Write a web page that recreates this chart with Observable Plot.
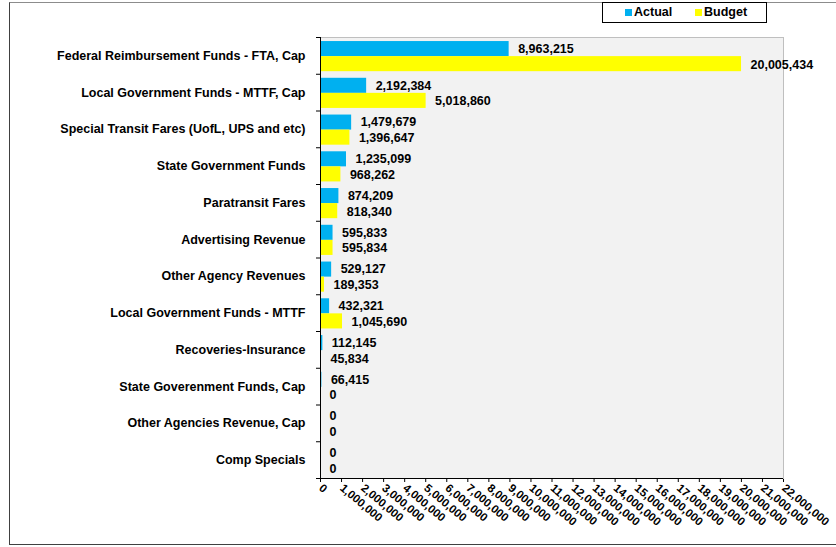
<!DOCTYPE html>
<html>
<head>
<meta charset="utf-8">
<script src="https://cdn.jsdelivr.net/npm/d3@7"></script>
<script src="https://cdn.jsdelivr.net/npm/@observablehq/plot@0.6"></script>
<style>
  html, body { margin: 0; padding: 0; background: #fff; }
  #wrap { position: relative; width: 836px; height: 547px; overflow: hidden; font-family: "Liberation Sans", Arial, sans-serif; }
  #chart { position: absolute; left: 0; top: 0; }
  #border { position: absolute; left: 9px; top: 2px; width: 900px; height: 541px; border-left: 1px solid #404040; border-bottom: 1px solid #404040; border-top: 1px solid #8c8c8c; }
  #legend { position: absolute; left: 602px; top: 2px; width: 163px; height: 19px; border: 1px solid #000; background: #fff; font-weight: bold; font-size: 12.5px; color: #000; }
  #legend .item { position: absolute; top: 2px; line-height: 15px; }
  #legend .sw { display: inline-block; width: 7px; height: 7px; margin-right: 2px; vertical-align: 0px; }
</style>
</head>
<body>
<div id="wrap">
  <div id="border"></div>
  <div id="chart"></div>
  <div id="legend"></div>
</div>
<script>
const categories = [
  "Federal Reimbursement Funds - FTA, Cap",
  "Local Government Funds - MTTF, Cap",
  "Special Transit Fares (UofL, UPS and etc)",
  "State Government Funds",
  "Paratransit Fares",
  "Advertising Revenue",
  "Other Agency Revenues",
  "Local Government Funds - MTTF",
  "Recoveries-Insurance",
  "State Goverenment Funds, Cap",
  "Other Agencies Revenue, Cap",
  "Comp Specials"
];
const actual = [8963215, 2192384, 1479679, 1235099, 874209, 595833, 529127, 432321, 112145, 66415, 0, 0];
const budget = [20005434, 5018860, 1396647, 968262, 818340, 595834, 189353, 1045690, 45834, 0, 0, 0];
const seriesNames = ["Actual", "Budget"];
const seriesColors = ["#00B0F0", "#FFFF00"];
const xTicks = [0, 1000000, 2000000, 3000000, 4000000, 5000000, 6000000, 7000000, 8000000, 9000000, 10000000,
  11000000, 12000000, 13000000, 14000000, 15000000, 16000000, 17000000, 18000000, 19000000, 20000000, 21000000, 22000000];

const rows = categories.map((c, i) => ({i, cat: c, actual: actual[i], budget: budget[i]}));
const fmt = d3.format(",");
const font = '"Liberation Sans", Arial, sans-serif';

const chart = Plot.plot({
  width: 836,
  height: 547,
  marginLeft: 320,
  marginRight: 53,
  marginTop: 37,
  marginBottom: 69,
  style: {fontFamily: font, fontSize: "11.5px", fontWeight: "bold", color: "#000", background: "transparent", overflow: "visible"},
  x: {domain: [0, 22000000], ticks: xTicks, tickFormat: fmt, tickRotate: 40, tickSize: 4, tickPadding: 4, label: null},
  y: {domain: [0, categories.length], reverse: true, ticks: d3.range(categories.length + 1), tickFormat: () => "", tickSize: 4, label: null},
  marks: [
    Plot.frame({fill: "#F2F2F2", stroke: "#BFBFBF"}),
    Plot.rectX(rows, {x1: 0, x2: "actual", y1: d => d.i + 0.11, y2: d => d.i + 0.52, fill: seriesColors[0]}),
    Plot.rectX(rows, {x1: 0, x2: "budget", y1: d => d.i + 0.52, y2: d => d.i + 0.93, fill: seriesColors[1]}),
    Plot.ruleX([0], {stroke: "#000"}),
    Plot.ruleY([categories.length], {stroke: "#000"}),
    Plot.text(rows, {x: "actual", y: d => d.i + 0.31, text: d => fmt(d.actual), textAnchor: "start", dx: 9, fontSize: 12.5, fontWeight: "bold", fill: "#000"}),
    Plot.text(rows, {x: "budget", y: d => d.i + 0.74, text: d => fmt(d.budget), textAnchor: "start", dx: 9, fontSize: 12.5, fontWeight: "bold", fill: "#000"}),
    Plot.text(rows, {x: 0, y: d => d.i + 0.5, text: "cat", textAnchor: "end", dx: -15, fontSize: 12.5, fontWeight: "bold", fill: "#000"})
  ]
});
document.getElementById("chart").appendChild(chart);

const legend = document.getElementById("legend");
const legendLeft = [22, 92];
seriesNames.forEach((name, k) => {
  const item = document.createElement("div");
  item.className = "item";
  item.style.left = legendLeft[k] + "px";
  item.innerHTML = `<span class="sw" style="background:${seriesColors[k]}"></span>${name}`;
  legend.appendChild(item);
});
</script>
</body>
</html>
